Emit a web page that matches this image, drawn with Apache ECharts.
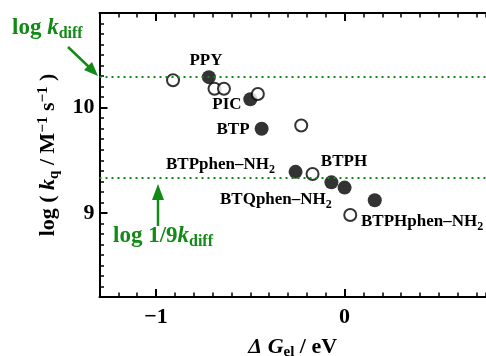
<!DOCTYPE html>
<html>
<head>
<meta charset="utf-8">
<script src="https://cdn.jsdelivr.net/npm/echarts@6/dist/echarts.min.js"></script>
<style>
html,body{margin:0;padding:0;background:#fff;}
#c{width:486px;height:356px;}
</style>
</head>
<body>
<div id="c"></div>
<script>
// ---- data ----
const filledX = [-0.72, -0.50, -0.44, -0.26, -0.07, 0.00, 0.16];
const filledY = [10.29, 10.08, 9.80, 9.39, 9.29, 9.24, 9.12];
const openX = [-0.91, -0.69, -0.64, -0.46, -0.23, -0.17, 0.03];
const openY = [10.26, 10.18, 10.18, 10.13, 9.83, 9.37, 8.98];
const logKdiff = 10.29;
const logKdiff9 = 9.33;
const xTickLabels = [-1, 0];
const yTickLabels = [9, 10];
const xRange = [-1.3, 0.75];
const yRange = [8.2, 10.9];

const FF = "'Liberation Serif','Times New Roman',serif";
const GREEN = '#138a16';
const chart = echarts.init(document.getElementById('c'), null, {renderer: 'canvas'});

const filled = filledX.map((x, i) => [x, filledY[i]]);
const open = openX.map((x, i) => [x, openY[i]]);

function fmt(v) { return v < 0 ? '\u2212' + Math.abs(v) : String(v); }

const axisLineStyle = {color: '#000', width: 2};
const lblStyle = {color: '#000', fontFamily: FF, fontWeight: 'bold', fontSize: 22};

function xAx(pos, major, labels) {
  return {
    type: 'value', position: pos, min: xRange[0], max: xRange[1], interval: 0.1,
    axisLine: {show: !major, onZero: false, lineStyle: axisLineStyle},
    axisTick: major ? {show: true, inside: true, length: 8, customValues: xTickLabels, lineStyle: {color: '#000', width: 2}}
                    : {show: true, inside: true, length: 4.5, lineStyle: {color: '#000', width: 1.5}},
    axisLabel: labels ? Object.assign({show: true, customValues: xTickLabels, formatter: fmt, margin: 9}, lblStyle) : {show: false},
    splitLine: {show: false}
  };
}
function yAx(major, labels) {
  return {
    type: 'value', position: 'left', min: yRange[0], max: yRange[1], interval: 0.1,
    axisLine: {show: !major, onZero: false, lineStyle: axisLineStyle},
    axisTick: major ? {show: true, inside: true, length: 8, customValues: yTickLabels, lineStyle: {color: '#000', width: 2}}
                    : {show: true, inside: true, length: 4.5, lineStyle: {color: '#000', width: 1.5}},
    axisLabel: labels ? Object.assign({show: true, customValues: yTickLabels, formatter: fmt, margin: 5}, lblStyle) : {show: false},
    splitLine: {show: false}
  };
}

const xMain = xAx('bottom', false, true);
xMain.name = '{i|\u0394 }{i|G}{sb|el}{n| / eV}';
xMain.nameLocation = 'middle';
xMain.nameGap = 37;
xMain.nameTextStyle = {
  fontFamily: FF, fontWeight: 'bold', fontSize: 22, color: '#000',
  rich: {
    n: {fontFamily: FF, fontWeight: 'bold', fontSize: 22, lineHeight: 26, color: '#000'},
    i: {fontFamily: FF, fontWeight: 'bold', fontStyle: 'italic', fontSize: 22, lineHeight: 26, color: '#000'},
    sb: {fontFamily: FF, fontWeight: 'bold', fontSize: 15, lineHeight: 14, verticalAlign: 'bottom', color: '#000'}
  }
};

const yMain = yAx(false, true);
yMain.name = '{n|log ( }{i|k}{sb|q}{n| / M}{sp|\u22121}{n| s}{sp|\u22121}{n| )}';
yMain.nameLocation = 'middle';
yMain.nameRotate = 90;
yMain.nameGap = 38;
yMain.nameTextStyle = {
  fontFamily: FF, fontWeight: 'bold', fontSize: 22, color: '#000',
  rich: {
    n: {fontFamily: FF, fontWeight: 'bold', fontSize: 22, lineHeight: 26, color: '#000'},
    i: {fontFamily: FF, fontWeight: 'bold', fontStyle: 'italic', fontSize: 22, lineHeight: 26, color: '#000'},
    sb: {fontFamily: FF, fontWeight: 'bold', fontSize: 15, lineHeight: 14, verticalAlign: 'bottom', color: '#000'},
    sp: {fontFamily: FF, fontWeight: 'bold', fontSize: 15, lineHeight: 14, verticalAlign: 'top', color: '#000'}
  }
};

const subRich = {
  b: {fontFamily: FF, fontWeight: 'bold', fontSize: 17, lineHeight: 21, fill: '#000'},
  s: {fontFamily: FF, fontWeight: 'bold', fontSize: 12, lineHeight: 11, verticalAlign: 'bottom', fill: '#000'}
};
function lbl(text, x, y, align) {
  return {
    type: 'text', x: x, y: y, silent: true, z: 50,
    style: {text: text, rich: subRich, fontFamily: FF, fontWeight: 'bold', fontSize: 17, fill: '#000',
            align: align || 'center', verticalAlign: 'middle'}
  };
}
const greenRich = {
  g: {fontFamily: FF, fontWeight: 'bold', fontSize: 23, lineHeight: 28, fill: GREEN},
  gi: {fontFamily: FF, fontWeight: 'bold', fontStyle: 'italic', fontSize: 23, lineHeight: 28, fill: GREEN},
  gs: {fontFamily: FF, fontWeight: 'bold', fontSize: 16, lineHeight: 15, verticalAlign: 'bottom', fill: GREEN}
};
function glbl(text, x, y) {
  return {
    type: 'text', x: x, y: y, silent: true, z: 50,
    style: {text: text, rich: greenRich, fontFamily: FF, fontWeight: 'bold', fontSize: 23, fill: GREEN,
            align: 'left', verticalAlign: 'middle'}
  };
}

chart.setOption({
  animation: false,
  backgroundColor: '#fff',
  grid: {left: 99.5, right: 0, top: 13, bottom: 59, containLabel: false, outerBoundsMode: 'none'},
  xAxis: [xMain, xAx('bottom', true, false), xAx('top', false, false), xAx('top', true, false)],
  yAxis: [yMain, yAx(true, false)],
  series: [
    {
      type: 'scatter', xAxisIndex: 0, yAxisIndex: 0, data: filled, symbol: 'circle', symbolSize: 14,
      itemStyle: {color: '#000'}, z: 3,
      markLine: {
        silent: true, symbol: ['none', 'none'], label: {show: false},
        lineStyle: {color: GREEN, width: 2, type: [2, 4]},
        data: [{yAxis: logKdiff}, {yAxis: logKdiff9}]
      }
    },
    {
      type: 'scatter', xAxisIndex: 0, yAxisIndex: 0, data: open, symbol: 'circle', symbolSize: 12,
      itemStyle: {color: '#fff', borderColor: '#000', borderWidth: 2}, z: 4
    }
  ],
  graphic: [
    lbl('{b|PPY}', 206, 61),
    lbl('{b|PIC}', 227, 105),
    lbl('{b|BTP}', 233, 130),
    lbl('{b|BTPphen\u2013NH}{s|2}', 166, 165, 'left'),
    lbl('{b|BTPH}', 344, 162),
    lbl('{b|BTQphen\u2013NH}{s|2}', 220, 200, 'left'),
    lbl('{b|BTPHphen\u2013NH}{s|2}', 361, 222, 'left'),
    glbl('{g|log }{gi|k}{gs|diff}', 12, 28),
    glbl('{g|log 1/9}{gi|k}{gs|diff}', 113, 236),
    {type: 'line', silent: true, shape: {x1: 68, y1: 47, x2: 89, y2: 67}, style: {stroke: GREEN, lineWidth: 2.5}},
    {type: 'polygon', silent: true, shape: {points: [[98, 76], [84, 70], [92, 62]]}, style: {fill: GREEN}},
    {type: 'line', silent: true, shape: {x1: 158, y1: 226, x2: 158, y2: 196}, style: {stroke: GREEN, lineWidth: 2.5}},
    {type: 'polygon', silent: true, shape: {points: [[158, 184], [152, 200], [164, 200]]}, style: {fill: GREEN}}
  ]
});
</script>
</body>
</html>
